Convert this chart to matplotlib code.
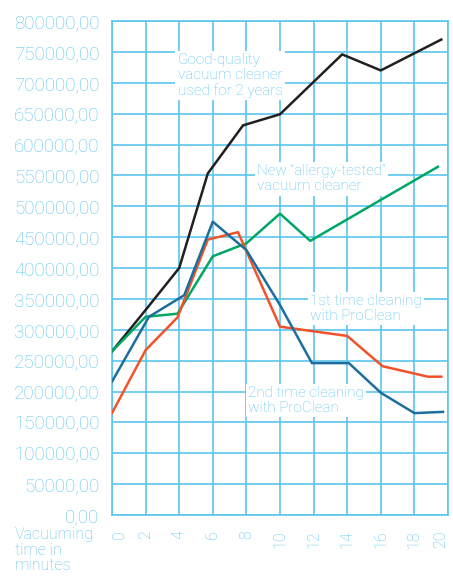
import matplotlib.pyplot as plt

# series (minutes, particles)
black_x = [0, 2, 4, 5.7, 7.8, 10, 13.7, 16, 19.6]
black_y = [265000, 332000, 400000, 553000, 631000, 649000, 746000, 720000, 770000]

green_x = [0, 2, 3.9, 6, 8, 10, 11.8, 19.4]
green_y = [265000, 321000, 326000, 419000, 440000, 488000, 444000, 564000]

blue_x = [0, 2.2, 4.3, 6, 8, 10, 11.9, 14.1, 16, 18, 19.7]
blue_y = [216000, 321000, 356000, 475000, 429000, 340000, 246000, 246000, 198000, 165000, 167000]

orange_x = [0, 2, 3.9, 5.7, 7.5, 10, 14, 16.1, 18.8, 19.6]
orange_y = [165000, 267000, 320000, 446000, 458000, 305000, 290000, 241000, 224000, 224000]

x_ticks = list(range(0, 21, 2))
y_ticks = list(range(0, 800001, 50000))

grid_col = '#5bc5ee'
txt_col = '#5bc5ee'
plt.rcParams['font.family'] = ['Roboto', 'DejaVu Sans']

fig = plt.figure(figsize=(4.53, 5.76), dpi=100)
ax = fig.add_axes([0.2472, 0.1059, 0.7418, 0.8576])

ax.plot(black_x, black_y, color='#231f20', lw=1.8, zorder=5)
ax.plot(green_x, green_y, color='#00a664', lw=1.8, zorder=5)
ax.plot(orange_x, orange_y, color='#f2522a', lw=1.8, zorder=5)
ax.plot(blue_x, blue_y, color='#1d6e9c', lw=1.8, zorder=5)

ax.set_xlim(0, 20)
ax.set_ylim(0, 800000)
ax.set_xticks(x_ticks)
ax.set_yticks(y_ticks)
ax.set_xticklabels([str(v) for v in x_ticks], rotation=90, va='top')
ax.set_yticklabels([f"{v},00" for v in y_ticks])
ax.tick_params(length=0, colors=txt_col, labelsize=13.5)
ax.tick_params(axis='y', pad=9)
ax.tick_params(axis='x', pad=11, labelsize=11.5)
for lab in ax.get_xticklabels() + ax.get_yticklabels():
    lab.set_fontweight('light')
ax.get_xticklabels()[-1].set_ha('right')
ax.get_xticklabels()[0].set_ha('left')

ax.grid(True, color=grid_col, lw=1.2, zorder=1)
ax.set_axisbelow(True)
for sp in ax.spines.values():
    sp.set_color(grid_col)
    sp.set_linewidth(1.2)

box = dict(facecolor='white', edgecolor='none', boxstyle='square,pad=0.15')
kw = dict(color=txt_col, fontsize=11, fontweight='light', va='top', ha='left',
          linespacing=1.1, bbox=box, zorder=3)
ax.text(3.9, 748000, "Good-quality\nvacuum cleaner\nused for 2 years", **kw)
ax.text(8.65, 568000, "New \u201callergy-tested\u201d\nvacuum cleaner", **kw)
ax.text(11.8, 358000, "1st time cleaning\nwith ProClean   ", **kw)
ax.text(8.1, 209000, "2nd time cleaning\nwith ProClean", **kw)

fig.text(15 / 453, 1 - 527 / 576, "Vacuuming\ntime in\nminutes", color=txt_col,
         fontsize=11.5, fontweight='light', va='top', ha='left', linespacing=1.05)

fig.savefig('out.png', dpi=100)
